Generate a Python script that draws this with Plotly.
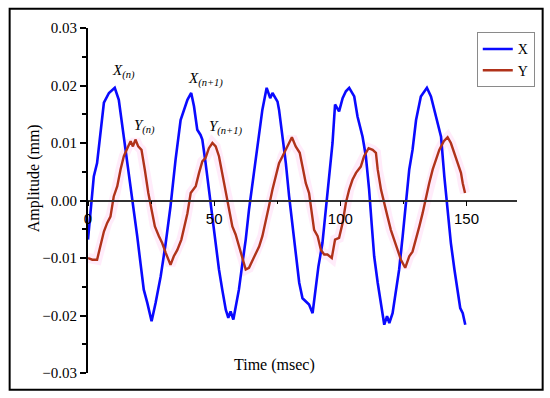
import plotly.graph_objects as go

# ---- data ----
x_time = [0, 1, 2.3, 3.6, 5, 6.3, 8.3, 10.6, 12.2, 13.6, 15.5, 16.9, 18.2, 19.5, 20.8, 22.1, 23.5, 25.2,
          26.8, 28.8, 30.8, 32.7, 34.7, 36.7, 39.4, 40.9, 42, 43.3, 44.6, 45.3, 46.6, 47.9, 49.3, 50.6,
          51.9, 53.2, 54.6, 55.6, 56.5, 57.6, 58.5, 59.8, 61.2, 62.5, 63.8, 65.2, 66.5, 67.8, 69.1, 70.8,
          72.2, 73.1, 75.1, 75.7, 77.1, 78.4, 79.7, 81, 82.3, 83.7, 85, 86.3, 87.6, 89, 90.3, 91.3, 92.9,
          94.2, 95.6, 96.9, 97.9, 99.5, 100.9, 102.2, 103.5, 105.5, 106.8, 108.8, 110.1, 111.4, 112.4,
          113.4, 114.8, 116.1, 117.4, 118.5, 119.4, 120.7, 122, 123.3, 124.7, 126, 127.3, 128.6, 130,
          131.9, 134.3, 135.9, 137.9, 139.9, 141.2, 142.5, 143.8, 145.2, 146.5, 147.5, 148.5, 149.5]
x_amp = [-0.0068, -0.0016, 0.0042, 0.0065, 0.0123, 0.017, 0.0187, 0.0196, 0.0175, 0.0129, 0.0071, 0.003,
         -0.0016, -0.0062, -0.0109, -0.0155, -0.0178, -0.021, -0.0178, -0.0132, -0.0074, -0.001, 0.0071,
         0.014, 0.0175, 0.0187, 0.0164, 0.0123, 0.0114, 0.0106, 0.0065, 0.0019, -0.0028, -0.0074, -0.012,
         -0.0155, -0.019, -0.0204, -0.0193, -0.0207, -0.0184, -0.0155, -0.0109, -0.0068, -0.0016, 0.003,
         0.0071, 0.0117, 0.0158, 0.0196, 0.0178, 0.0187, 0.0172, 0.0158, 0.0111, 0.0065, 0.0007, -0.0045,
         -0.0097, -0.0143, -0.017, -0.0175, -0.0181, -0.0196, -0.0155, -0.0115, -0.0074, -0.0016, 0.0042,
         0.01, 0.0167, 0.0155, 0.0178, 0.019, 0.0196, 0.0181, 0.0146, 0.0111, 0.0077, 0.0019, -0.004,
         -0.0097, -0.0143, -0.0178, -0.0216, -0.0201, -0.0213, -0.0196, -0.0161, -0.012, -0.0062, 0.0001,
         0.0054, 0.0088, 0.014, 0.0181, 0.0196, 0.0181, 0.0146, 0.0111, 0.0042, -0.0016, -0.0074, -0.012,
         -0.0155, -0.0187, -0.0196, -0.0216]

y_time = [0, 1.7, 3.6, 5, 6.3, 7.6, 8.9, 10.2, 11.6, 12.9, 14.2, 15.9, 16.9, 17.8, 18.8, 19.9, 21.2, 22.5,
          23.9, 25.2, 26.5, 28.1, 29.4, 30.8, 32.7, 34, 35.4, 37, 38.3, 39.4, 40.7, 42.7, 44, 45.3, 46.6,
          47.9, 49.3, 50.6, 51.9, 53.2, 54.6, 55.9, 57.2, 58.5, 59.8, 61.2, 62.5, 63.8, 65.2, 66.5, 67.8,
          69.1, 70.4, 71.7, 73.1, 74.4, 75.7, 77.1, 79, 80.8, 82.3, 83.9, 85, 86.3, 87.6, 88.3, 89.6, 91,
          92.3, 93.6, 94.9, 96.6, 97.9, 99.5, 100.9, 102.2, 103.5, 104.8, 106.2, 108.1, 109.4, 111.2,
          112.8, 114.1, 114.8, 116.1, 117.4, 118.7, 120, 121.3, 122.7, 124, 125.7, 127.3, 128.6, 130,
          131.3, 132.6, 133.9, 135.2, 136.6, 137.9, 139.2, 141, 142.5, 143.8, 145.2, 146.5, 147.8, 148.5,
          149.4]
y_amp = [-0.01, -0.0103, -0.0103, -0.008, -0.0054, -0.0039, -0.0028, 0.0007, 0.0025, 0.0054, 0.0077,
         0.0094, 0.0103, 0.0094, 0.0106, 0.0094, 0.0088, 0.0054, 0.0013, -0.0016, -0.0045, -0.0062, -0.0074,
         -0.0091, -0.0112, -0.0097, -0.0086, -0.0068, -0.0045, -0.0022, 0.0013, 0.0025, 0.0048, 0.0068,
         0.0074, 0.0091, 0.01, 0.0094, 0.0077, 0.0048, 0.0019, -0.001, -0.0045, -0.0059, -0.008, -0.01,
         -0.012, -0.0117, -0.0103, -0.0091, -0.008, -0.0062, -0.0033, -0.001, 0.0019, 0.0042, 0.0065,
         0.0077, 0.0094, 0.011, 0.0094, 0.0083, 0.0059, 0.003, 0.0013, -0.001, -0.0051, -0.0062, -0.0086,
         -0.0094, -0.0094, -0.01, -0.0068, -0.0065, -0.0039, -0.0004, 0.0019, 0.0036, 0.0048, 0.0059,
         0.0077, 0.0091, 0.0088, 0.0083, 0.0054, 0.0019, -0.0007, -0.0028, -0.0051, -0.0068, -0.0086,
         -0.0103, -0.0117, -0.0097, -0.0089, -0.0068, -0.0045, -0.0022, 0.0007, 0.003, 0.0054, 0.0071,
         0.0088, 0.0103, 0.011, 0.01, 0.0083, 0.0065, 0.0048, 0.003, 0.0013]

y_ticks = [-0.03, -0.02, -0.01, 0.0, 0.01, 0.02, 0.03]
x_ticks = [0, 50, 100, 150]

SERIF = "Liberation Serif, Times New Roman, serif"
SANS = "Liberation Sans, Arial, sans-serif"

fig = go.Figure()
# faint pink halo seen around the red curve in the reference
fig.add_trace(go.Scatter(x=y_time, y=y_amp, mode="lines", showlegend=False, hoverinfo="skip",
                         line=dict(color="rgba(255,170,230,0.22)", width=10)))
fig.add_trace(go.Scatter(x=x_time, y=x_amp, mode="lines", name="X",
                         line=dict(color="#0a0aff", width=2.6)))
fig.add_trace(go.Scatter(x=y_time, y=y_amp, mode="lines", name="Y",
                         line=dict(color="#b0321a", width=2.4)))

L, R, T, B = 87.5, 32.7, 28.3, 24.7
W, H = 550, 398
pw, ph = W - L - R, H - T - B

def px_x(p):
    return (p - L) / pw

def px_y(p):
    return (H - B - p) / ph

fig.update_layout(
    width=W, height=H,
    margin=dict(l=L, r=R, t=T, b=B, pad=0),
    paper_bgcolor="white", plot_bgcolor="white",
    showlegend=True,
    legend=dict(x=px_x(477), y=px_y(32.7), xanchor="left", yanchor="top",
                bordercolor="#8a8a8a", borderwidth=1, bgcolor="white",
                font=dict(family=SERIF, size=14, color="black"),
                tracegroupgap=0, itemwidth=30),
    xaxis=dict(range=[0, 170], showgrid=False, zeroline=False,
               tickvals=x_ticks, ticktext=[str(v) for v in x_ticks],
               ticks="outside", ticklen=5, tickwidth=1.2, tickcolor="black",
               minor=dict(tickvals=[25, 75, 125], ticks="outside", ticklen=3, tickcolor="black"),
               showline=True, linecolor="#333333", linewidth=1.6,
               anchor="free", position=0.5,
               tickfont=dict(family=SANS, size=15, color="black")),
    yaxis=dict(range=[-0.03, 0.03], showgrid=False, zeroline=False,
               tickvals=y_ticks, tickformat=".2f",
               ticks="outside", ticklen=6, tickwidth=1.5, tickcolor="black",
               minor=dict(dtick=0.005, ticks="outside", ticklen=4, tickcolor="black"),
               showline=True, linecolor="black", linewidth=2,
               tickfont=dict(family=SERIF, size=15, color="black")),
    font=dict(family=SERIF, color="black"),
)

fig.add_annotation(text="Amplitude (mm)", xref="paper", yref="paper", x=px_x(33), y=px_y(179),
                   xanchor="center", yanchor="middle",
                   textangle=-90, showarrow=False, font=dict(family=SERIF, size=16, color="black"))
fig.add_annotation(text="Time (msec)", xref="paper", yref="paper", x=px_x(274), y=px_y(365),
                   xanchor="center", yanchor="middle",
                   showarrow=False, font=dict(family=SERIF, size=16, color="black"))

labels = [("X<sub>(n)</sub>", 8.9, 0.0224), ("Y<sub>(n)</sub>", 17.5, 0.0128),
          ("X<sub>(n+1)</sub>", 38.7, 0.0210), ("Y<sub>(n+1)</sub>", 47.3, 0.0127)]
for txt, tx, ty in labels:
    fig.add_annotation(text="<i>" + txt + "</i>", x=tx, y=ty, xanchor="left", yanchor="middle",
                       showarrow=False, font=dict(family=SERIF, size=15, color="black"))

# outer frame
fig.add_shape(type="rect", xref="paper", yref="paper",
              x0=px_x(9), x1=px_x(543), y0=px_y(390), y1=px_y(9),
              line=dict(color="black", width=2), fillcolor="rgba(0,0,0,0)")

fig.write_html("out.html", config={"displayModeBar": False},
               post_script="document.body.style.margin='0';document.body.style.overflow='hidden';")
